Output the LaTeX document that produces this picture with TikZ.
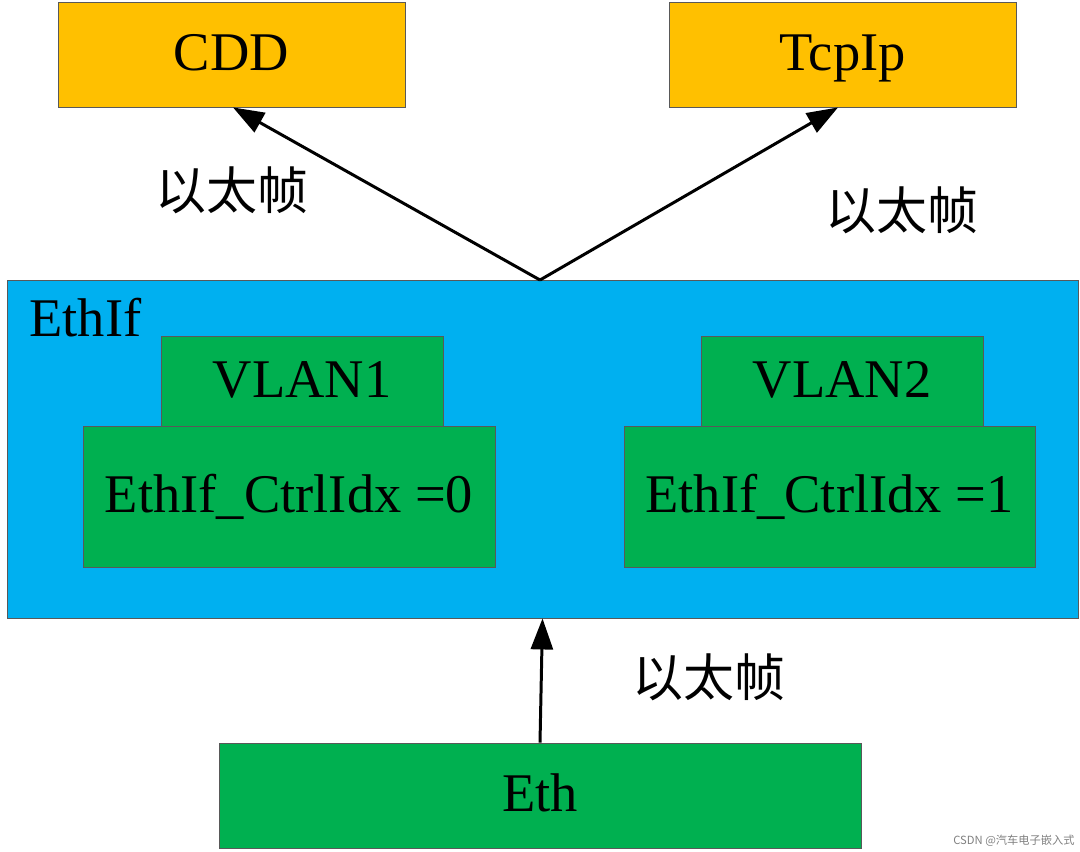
\documentclass[tikz,border=0pt]{standalone}
\usepackage{fontspec}
\setmainfont{Liberation Serif}
\newfontfamily\cjk{Noto Sans CJK SC}
\usetikzlibrary{arrows.meta}
\definecolor{boxorange}{HTML}{FFC000}
\definecolor{boxblue}{HTML}{00B0F0}
\definecolor{boxgreen}{HTML}{00B050}
\tikzset{
  box/.style = {draw = gray!70!black, line width = 0.5pt, inner sep = 0pt,
                font = \fontsize{31}{37}\selectfont, text height = 24pt, text depth = 5.5pt},
  orangebox/.style = {box, fill = boxorange, minimum width = 6.94cm, minimum height = 2.10cm},
  greenbox/.style = {box, fill = boxgreen},
  frame/.style = {font = \cjk\fontsize{29}{34}\selectfont},
  flow/.style = {line width = 1.7pt, -{Triangle[length = 0.62cm, width = 0.44cm]}}
}
\begin{document}
\begin{tikzpicture}
  % 画布
  \useasboundingbox (0,0) rectangle (21.6,-17.04);
  % 上层模块
  \node[orangebox] (cdd)   at (4.63,-1.09)  {CDD};
  \node[orangebox] (tcpip) at (16.85,-1.09) {TcpIp};
  % EthIf 模块
  \node[box, fill = boxblue, minimum width = 21.42cm, minimum height = 6.76cm] (ethif) at (10.85,-8.98) {};
  \node[anchor = base west, inner sep = 0pt, font = \fontsize{31}{37}\selectfont] (ethiflbl) at (0.58,-6.72) {EthIf};
  % VLAN 与控制器
  \node[greenbox, minimum width = 5.64cm, minimum height = 1.80cm] (vlan1) at (6.04,-7.62)  {VLAN1};
  \node[greenbox, minimum width = 8.24cm, minimum height = 2.82cm] (ctrl0) at (5.78,-9.93)  {EthIf\_CtrlIdx =0};
  \node[greenbox, minimum width = 5.64cm, minimum height = 1.80cm] (vlan2) at (16.84,-7.62) {VLAN2};
  \node[greenbox, minimum width = 8.22cm, minimum height = 2.82cm] (ctrl1) at (16.59,-9.93) {EthIf\_CtrlIdx =1};
  % 底层驱动
  \node[greenbox, minimum width = 12.84cm, minimum height = 2.10cm] (eth) at (10.80,-15.91) {Eth};
  % 连线
  \coordinate (fork) at (10.80,-5.60);
  \draw[flow] (fork) -- ([xshift = 0.03cm]cdd.south);
  \draw[flow] (fork) -- ([xshift = -0.09cm]tcpip.south);
  \draw[flow] (eth.north) -- (ethif.south);
  % 标注
  \node[frame] (lblcdd) at (4.64,-3.80)  {以太帧};
  \node[frame] (lbltcp) at (18.04,-4.20) {以太帧};
  \node[frame] (lbleth) at (14.18,-13.54) {以太帧};
  % 水印
  \node[font = \cjk\fontsize{6.4}{8}\selectfont, text = gray] (mark) at (20.28,-16.82) {CSDN @汽车电子嵌入式};
\end{tikzpicture}
\end{document}
